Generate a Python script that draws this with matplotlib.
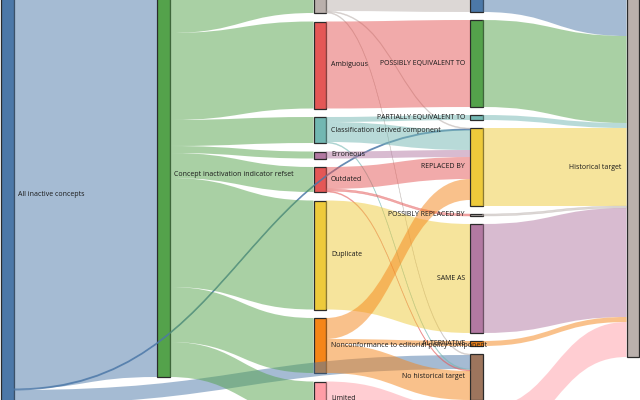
import os
import matplotlib
matplotlib.use("Agg")
import matplotlib.pyplot as plt
from matplotlib import font_manager
from matplotlib.font_manager import FontProperties
from matplotlib.path import Path
from matplotlib.patches import PathPatch, Rectangle
from matplotlib.colors import to_rgba

# ---------------- data ----------------
col0_nodes = ["All inactive concepts"]
col1_nodes = ["Concept inactivation indicator refset"]
col2_nodes = ["Moved elsewhere", "Ambiguous", "Classification derived component",
              "Erroneous", "Outdated", "Duplicate",
              "Nonconformance to editorial policy component", "Limited"]
col3_nodes = ["MOVED TO", "POSSIBLY EQUIVALENT TO", "PARTIALLY EQUIVALENT TO",
              "REPLACED BY", "POSSIBLY REPLACED BY", "SAME AS", "ALTERNATIVE",
              "No historical target", "WAS A"]
col4_nodes = ["Historical target"]

link_source = [
    "All inactive concepts", "All inactive concepts", "All inactive concepts",
    "Concept inactivation indicator refset", "Concept inactivation indicator refset",
    "Concept inactivation indicator refset", "Concept inactivation indicator refset",
    "Concept inactivation indicator refset", "Concept inactivation indicator refset",
    "Concept inactivation indicator refset", "Concept inactivation indicator refset",
    "Moved elsewhere", "Moved elsewhere", "Moved elsewhere",
    "Ambiguous",
    "Classification derived component", "Classification derived component",
    "Classification derived component",
    "Erroneous",
    "Outdated", "Outdated", "Outdated",
    "Duplicate",
    "Nonconformance to editorial policy component",
    "Nonconformance to editorial policy component",
    "Nonconformance to editorial policy component",
    "Limited",
    "MOVED TO", "POSSIBLY EQUIVALENT TO", "PARTIALLY EQUIVALENT TO", "REPLACED BY",
    "POSSIBLY REPLACED BY", "SAME AS", "ALTERNATIVE", "WAS A",
]
link_target = [
    "Concept inactivation indicator refset", "REPLACED BY", "No historical target",
    "Moved elsewhere", "Ambiguous", "Classification derived component", "Erroneous",
    "Outdated", "Duplicate", "Nonconformance to editorial policy component", "Limited",
    "MOVED TO", "REPLACED BY", "No historical target",
    "POSSIBLY EQUIVALENT TO",
    "PARTIALLY EQUIVALENT TO", "REPLACED BY", "No historical target",
    "REPLACED BY",
    "REPLACED BY", "POSSIBLY REPLACED BY", "No historical target",
    "SAME AS",
    "REPLACED BY", "ALTERNATIVE", "No historical target",
    "WAS A",
    "Historical target", "Historical target", "Historical target", "Historical target",
    "Historical target", "Historical target", "Historical target", "Historical target",
]
link_value = [
    404, 1, 14,
    60, 87, 26, 7, 25, 109, 55, 35,
    58, 1, 1,
    87,
    5, 20, 1,
    7,
    22, 2, 1,
    109,
    21, 5, 29,
    35,
    58, 87, 5, 78, 2, 109, 5, 35,
]

# ---------------- style / layout ----------------
node_colors = {
    "All inactive concepts": "#4c78a8",
    "Concept inactivation indicator refset": "#54a24b",
    "Moved elsewhere": "#bab0ac",
    "Ambiguous": "#e45756",
    "Classification derived component": "#72b7b2",
    "Erroneous": "#b279a2",
    "Outdated": "#e45756",
    "Duplicate": "#eeca3b",
    "Nonconformance to editorial policy component": "#f58518",
    "Limited": "#ff9da6",
    "MOVED TO": "#4c78a8",
    "POSSIBLY EQUIVALENT TO": "#54a24b",
    "PARTIALLY EQUIVALENT TO": "#72b7b2",
    "REPLACED BY": "#eeca3b",
    "POSSIBLY REPLACED BY": "#bab0ac",
    "SAME AS": "#b279a2",
    "ALTERNATIVE": "#f58518",
    "No historical target": "#9d755d",
    "WAS A": "#ff9da6",
    "Historical target": "#bab0ac",
}
columns = [col0_nodes, col1_nodes, col2_nodes, col3_nodes, col4_nodes]
col_x = [1.0, 157.0, 313.5, 470.0, 626.5]
col_top = [-15.0, -27.0, -47.0, -46.0, -22.0]
col_gap = [8.0, 8.0, 8.5, 8.0, 8.0]
node_w = 12.5

# narrow sans font for labels, with fallbacks
by_file = {os.path.basename(f.fname): f.fname for f in font_manager.fontManager.ttflist}
label_font = None
for fn, size in [("NotoSans-Condensed.ttf", 6.2),
                 ("NotoSans-CondensedRegular.ttf", 6.2),
                 ("LiberationSansNarrow-Regular.ttf", 6.1)]:
    if fn in by_file:
        label_font = FontProperties(fname=by_file[fn], size=size)
        break
if label_font is None:
    label_font = FontProperties(family=["Open Sans", "DejaVu Sans"], size=5.0)

links = list(zip(link_source, link_target, link_value))
inflow = {}
outflow = {}
for s, t, v in links:
    outflow[s] = outflow.get(s, 0) + v
    inflow[t] = inflow.get(t, 0) + v

pos = {}
for ci, col in enumerate(columns):
    y = col_top[ci]
    for n in col:
        h = max(inflow.get(n, 0), outflow.get(n, 0))
        pos[n] = (col_x[ci], y, y + h, ci)
        y += h + col_gap[ci]

fig = plt.figure(figsize=(6.4, 4.0), dpi=100)
ax = fig.add_axes([0, 0, 1, 1])
ax.set_xlim(0, 640)
ax.set_ylim(400, 0)
ax.axis("off")

# nodes
for n, (x, y0, y1, ci) in pos.items():
    ax.add_patch(Rectangle((x, y0), node_w, y1 - y0, facecolor=node_colors[n],
                           edgecolor="#2b2b2b", linewidth=0.9, zorder=1))

# link slots
out_off = {n: pos[n][1] for n in pos}
in_off = {n: pos[n][1] for n in pos}
order_out = sorted(range(len(links)), key=lambda i: (pos[links[i][0]][1], pos[links[i][1]][1]))
src_slot = {}
for i in order_out:
    s, t, v = links[i]
    src_slot[i] = out_off[s]
    out_off[s] += v
order_in = sorted(range(len(links)), key=lambda i: (pos[links[i][1]][1], pos[links[i][0]][1]))
tgt_slot = {}
for i in order_in:
    s, t, v = links[i]
    tgt_slot[i] = in_off[t]
    in_off[t] += v

for i, (s, t, v) in enumerate(links):
    xs = pos[s][0] + node_w
    xt = pos[t][0]
    xm = (xs + xt) / 2
    ys0 = src_slot[i]
    yt0 = tgt_slot[i]
    ys1, yt1 = ys0 + v, yt0 + v
    verts = [(xs, ys0), (xm, ys0), (xm, yt0), (xt, yt0),
             (xt, yt1), (xm, yt1), (xm, ys1), (xs, ys1), (xs, ys0)]
    codes = [Path.MOVETO, Path.CURVE4, Path.CURVE4, Path.CURVE4,
             Path.LINETO, Path.CURVE4, Path.CURVE4, Path.CURVE4, Path.CLOSEPOLY]
    col = to_rgba(node_colors[s], 0.5)
    thin = v <= 2
    if s == "All inactive concepts" and thin:
        ec, lw = to_rgba(node_colors[s], 0.75), 0.7
    elif thin:
        ec, lw = to_rgba(node_colors[s], 0.45), 0.4
    else:
        ec, lw = "none", 0
    ax.add_patch(PathPatch(Path(verts, codes), facecolor=col,
                           edgecolor=ec, linewidth=lw, zorder=2))

for n, (x, y0, y1, ci) in pos.items():
    yc = (y0 + y1) / 2
    if ci <= 2:
        ax.text(x + node_w + 5, yc, n, ha="left", va="center",
                fontproperties=label_font, color="#1a1a1a", zorder=3, clip_on=True)
    else:
        ax.text(x - 5, yc, n, ha="right", va="center",
                fontproperties=label_font, color="#1a1a1a", zorder=3, clip_on=True)

fig.savefig("out.png", dpi=100)
